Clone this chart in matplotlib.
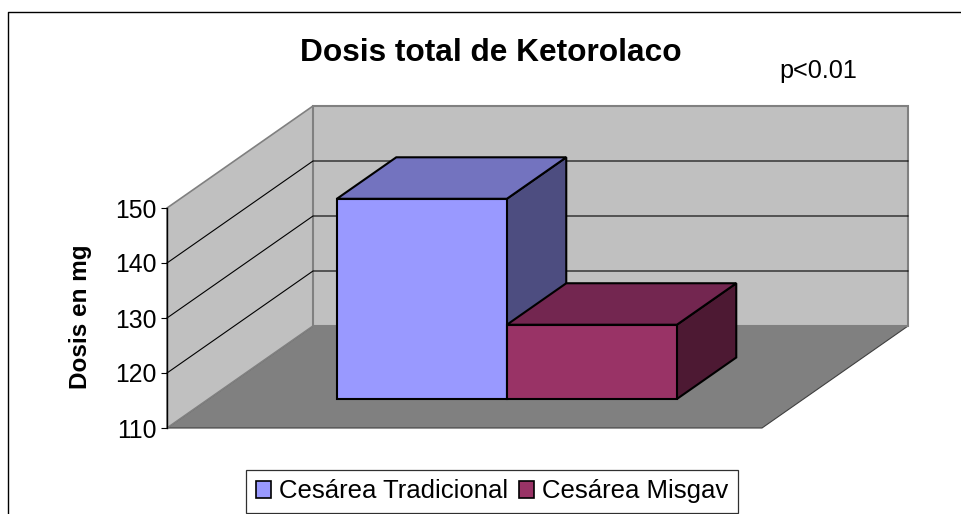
import matplotlib
matplotlib.use("Agg")
import matplotlib.pyplot as plt
from matplotlib.patches import Patch, Polygon
from matplotlib.lines import Line2D

plt.rcParams['font.family'] = ['Liberation Sans', 'DejaVu Sans']

# -----------------------------
# Data
# -----------------------------
categories = ["Cesárea Tradicional", "Cesárea Misgav"]
doses = [146.4, 123.5]
y_ticks = [110, 120, 130, 140, 150]
front_colors = ["#9999FF", "#993366"]
top_colors = ["#7373BF", "#732650"]
side_colors = ["#4D4D80", "#4D1933"]

# -----------------------------
# Fake 3D geometry (Excel style)
# -----------------------------
W, H = 961, 514
px_x = 170.0      # pixels per category
px_y = 5.5        # pixels per mg
x0, y0 = 167, 428  # pixel position of the front corner
n_cols = 3.5       # width of the floor, in categories
y_min, y_max = 110, 150
depth_dx = 146 / px_x   # shift of the back wall
depth_dy = 102 / px_y
bar_start = 0.755        # gap before the first bar
d1, d2 = 29 / 102, 70.5 / 102   # bar front and back, depth fraction


def proj(x, v, d=0.0):
    return (x + d * depth_dx, v + d * depth_dy)


def face(ax, pts, color, edge='black', lw=1.5, z=3):
    ax.add_patch(Polygon([proj(*p) for p in pts], closed=True, facecolor=color,
                         edgecolor=edge, linewidth=lw, joinstyle='miter', zorder=z))


fig = plt.figure(figsize=(W / 100, H / 100), dpi=100, facecolor='white')
ax = fig.add_axes([0, 0, 1, 1])
ax.set_xlim(-x0 / px_x, (W - x0) / px_x)
ax.set_ylim(y_min - (H - y0) / px_y, y_min + y0 / px_y)
ax.patch.set_visible(False)

# walls and floor
face(ax, [(0, y_min, 0), (n_cols, y_min, 0), (n_cols, y_min, 1), (0, y_min, 1)], '#808080', '#404040', 0.8, 1)
face(ax, [(0, y_min, 0), (0, y_max, 0), (0, y_max, 1), (0, y_min, 1)], '#C0C0C0', '#808080', 1.2, 1)
face(ax, [(0, y_min, 1), (0, y_max, 1), (n_cols, y_max, 1), (n_cols, y_min, 1)], '#C0C0C0', '#808080', 1.5, 1)

# gridlines
for t in y_ticks[1:-1]:
    ax.plot(*zip(proj(0, t, 0), proj(0, t, 1), proj(n_cols, t, 1)), color='black', lw=0.8, zorder=2)

# bars
for i in range(len(doses)):
    xa = bar_start + i
    xb = xa + 1
    v = doses[i]
    face(ax, [(xb, y_min, d1), (xb, v, d1), (xb, v, d2), (xb, y_min, d2)], side_colors[i], z=3 + i)
    face(ax, [(xa, v, d1), (xb, v, d1), (xb, v, d2), (xa, v, d2)], top_colors[i], z=3 + i)
    face(ax, [(xa, y_min, d1), (xb, y_min, d1), (xb, v, d1), (xa, v, d1)], front_colors[i], z=3 + i)

# value axis
for s in ['top', 'right', 'bottom']:
    ax.spines[s].set_visible(False)
ax.spines['left'].set_position(('data', 0))
ax.spines['left'].set_bounds(y_min, y_max)
ax.spines['left'].set_linewidth(1.0)
ax.spines['left'].set_zorder(6)
ax.set_xticks([])
ax.set_yticks(y_ticks)
ax.tick_params(axis='y', length=4, width=0.8, pad=3.5, labelsize=17.8)

# texts
fig.text(490.5 / W, 1 - 53 / H, "Dosis total de Ketorolaco", fontsize=22.75, fontweight='bold',
         ha='center', va='center')
fig.text(818.5 / W, 1 - 71 / H, "p<0.01", fontsize=18.2, ha='center', va='center')
fig.text(81 / W, 1 - 317 / H, "Dosis en mg", fontsize=17.5, fontweight='bold', rotation=90,
         ha='center', va='center')

# outer frame, cut off by the image on the right and at the bottom
fig.add_artist(Line2D([8 / W, 8 / W, 1], [0, 1 - 12 / H, 1 - 12 / H], color='black', lw=1.0))

# legend
handles = [Patch(facecolor=front_colors[i], edgecolor='black', linewidth=1.2) for i in range(len(categories))]
leg = ax.legend(handles, categories, ncol=2, fontsize=18.5, frameon=True, fancybox=False,
                edgecolor='#303030', framealpha=1, loc='lower left',
                bbox_to_anchor=(246.5 / W, 1 / H), bbox_transform=fig.transFigure,
                borderaxespad=0, handlelength=0.59, handleheight=0.59, handletextpad=0.3,
                columnspacing=0.43, borderpad=0.37)
leg.get_frame().set_linewidth(0.9)

plt.savefig("out.png", dpi=100)
